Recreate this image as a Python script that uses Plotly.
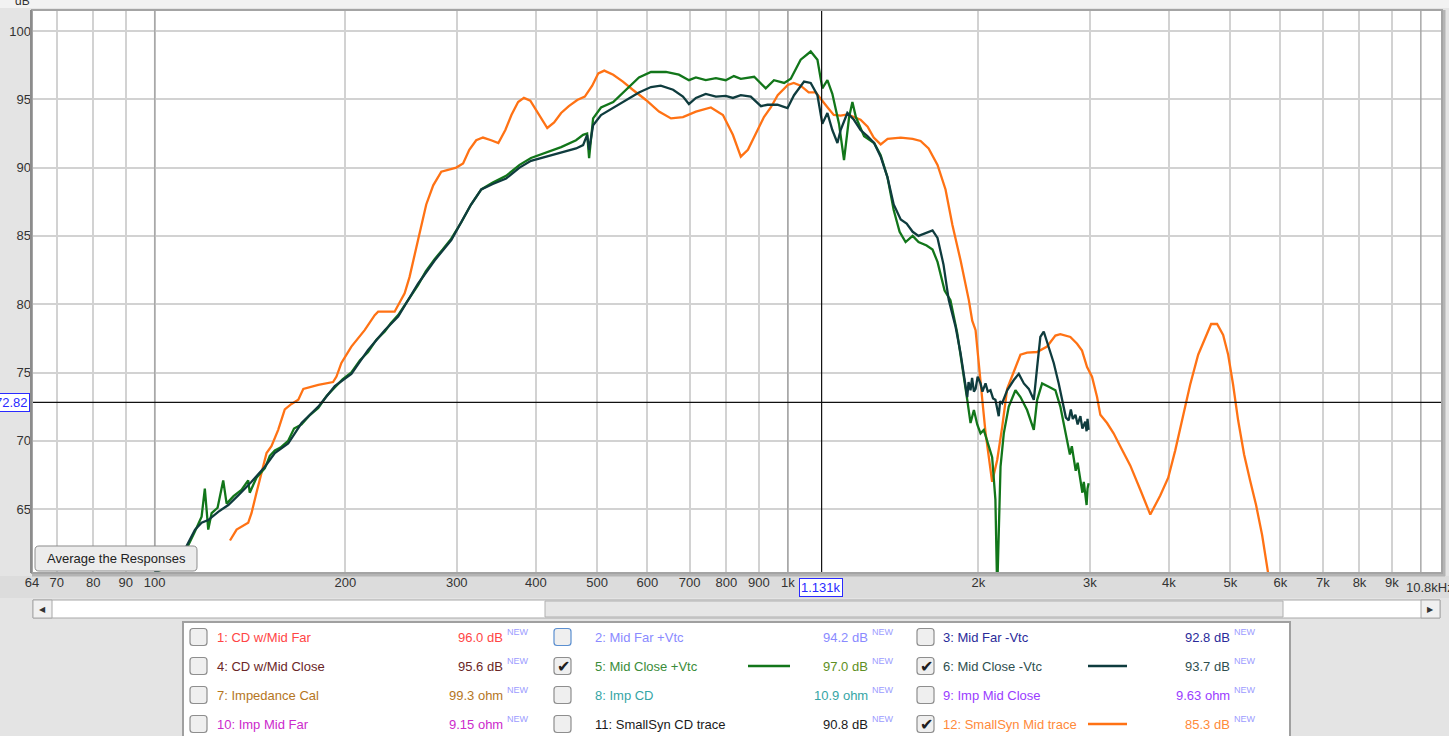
import plotly.graph_objects as go
import math

# ---------------- data ----------------
orange_freq = [131.5, 134.7, 140.5, 142.2, 144.8, 147.5, 150.2, 152.9, 156.7, 160.5,
               164.5, 168.6, 171.7, 181.3, 191.3, 193.7, 197.2, 204.5, 209.6, 214.6,
               222.6, 225.4, 239.3, 243.7, 248.2, 252.7, 257.4, 260.6, 268.5, 275.4,
               283.6, 299.5, 307, 314, 322, 330, 340, 349, 358, 366,
               375, 383, 392, 402, 417, 427.5, 438.5, 451, 465, 478,
               491, 502, 513, 530, 549, 569, 597, 626, 654, 683,
               716, 756, 790, 819, 843, 865, 884, 917, 940, 964,
               1000, 1022, 1048, 1079, 1107, 1136, 1156, 1182, 1212, 1243,
               1271, 1303, 1337, 1367, 1402, 1438, 1508, 1575, 1621, 1669,
               1724, 1775, 1820, 1875, 1932, 1956, 1980, 2004, 2029, 2053,
               2078, 2103, 2142, 2181, 2221, 2273, 2331, 2388, 2476, 2568,
               2647, 2695, 2795, 2864, 2916, 2970, 3024, 3080, 3117, 3194,
               3271, 3351, 3475, 3606, 3738, 3876, 3990, 4093, 4198, 4321,
               4449, 4563, 4664, 4766, 4872, 4962, 5052, 5145, 5258, 5374,
               5492, 5614, 5738, 5820]
orange_db = [62.7, 63.5, 64.0, 64.7, 66.2, 67.6, 69.1, 69.6, 70.8, 72.3,
             72.7, 73.0, 73.8, 74.1, 74.3, 74.7, 75.7, 76.9, 77.5, 78.1,
             79.2, 79.45, 79.45, 80.1, 80.8, 82.0, 83.5, 84.7, 87.3, 88.7,
             89.7, 90.0, 90.3, 91.3, 92.0, 92.2, 92.0, 91.8, 92.75, 93.85,
             94.8, 95.1, 94.9, 94.1, 92.9, 93.3, 94.0, 94.5, 94.95, 95.2,
             96.0, 96.9, 97.1, 96.8, 96.3, 95.7, 94.95, 94.1, 93.6, 93.7,
             94.1, 94.4, 93.85, 92.4, 90.8, 91.3, 92.2, 93.7, 94.4, 95.3,
             96.05, 96.2, 96.0, 95.5, 95.5, 94.8, 94.4, 93.85, 93.8, 93.9,
             93.7, 93.5, 93.0, 92.2, 91.7, 92.1, 92.2, 92.1, 91.95, 91.4,
             90.2, 88.4, 85.8, 83.2, 80.3, 78.8, 78.1, 75.4, 73.0, 70.6,
             68.6, 67.0, 68.6, 71.0, 73.8, 75.0, 76.3, 76.45, 76.5, 76.9,
             77.7, 77.8, 77.6, 77.1, 76.6, 75.4, 74.7, 73.2, 71.9, 71.3,
             70.55, 69.6, 68.2, 66.4, 64.6, 66.0, 67.3, 69.3, 71.5, 74.1,
             76.3, 77.5, 78.55, 78.55, 77.75, 76.3, 74.1, 71.5, 69.0, 67.1,
             65.3, 63.1, 60.5, 58.5]

dark_freq = [100, 106.4, 110.3, 113, 115.8, 118.6, 121.5, 126, 130.7, 135.5,
             142.2, 149.3, 154.8, 162.5, 170.6, 181.3, 192.5, 204.5, 217.3, 230.9,
             242.4, 260.6, 276.8, 294.1, 305, 316, 328, 342, 359, 377,
             393, 415, 438.5, 463, 475, 482, 485.5, 492.6, 507, 530,
             555, 582, 608, 630, 659, 683, 698, 716, 742, 770,
             798, 819, 843, 874, 907, 929, 963, 999, 1023, 1061,
             1087, 1114, 1134, 1155, 1176, 1198, 1212, 1242, 1272, 1303,
             1336, 1369, 1402, 1437, 1470, 1508, 1541, 1575, 1609, 1651,
             1693, 1724, 1762, 1796, 1841, 1875, 1909, 1921, 1930, 1944,
             1955, 1968, 1980, 1995, 2016, 2030, 2053, 2070, 2090, 2110,
             2128, 2154, 2165, 2181, 2221, 2275, 2317, 2360, 2403, 2447,
             2477, 2506, 2537, 2584, 2631, 2679, 2729, 2750, 2778, 2800,
             2820, 2847, 2870, 2899, 2920, 2951, 2965, 2975, 2987]
dark_db = [60.4, 60.9, 61.6, 62.6, 63.5, 64.0, 64.2, 64.8, 65.3, 66.0,
           67.0, 68.1, 69.1, 69.8, 71.3, 72.5, 74.0, 74.9, 76.65, 78.1,
           79.1, 81.5, 83.2, 84.7, 86.0, 87.3, 88.4, 88.8, 89.2, 90.0,
           90.5, 90.8, 91.1, 91.4, 91.65, 92.4, 91.3, 93.1, 93.85, 94.4,
           94.95, 95.5, 95.9, 96.0, 95.7, 95.2, 94.65, 95.1, 95.4, 95.2,
           95.25, 95.1, 95.3, 95.2, 94.5, 94.6, 94.6, 94.35, 95.3, 96.3,
           96.2, 95.3, 93.2, 94.0, 92.75, 91.8, 92.75, 94.0, 93.5, 92.75,
           92.3, 91.8, 90.8, 89.3, 87.3, 86.2, 85.9, 85.3, 85.0, 85.2,
           85.4, 84.85, 82.9, 80.3, 78.35, 76.4, 74.2, 73.2, 74.3, 73.7,
           74.6, 73.6, 73.8, 74.7, 74.2, 73.6, 74.2, 73.6, 73.7, 73.1,
           73.0, 71.8, 72.9, 72.75, 73.7, 74.45, 74.9, 74.2, 73.8, 73.0,
           75.4, 77.6, 78.0, 76.9, 75.7, 74.2, 72.5, 71.7, 71.5, 72.3,
           71.6, 71.9, 71.2, 71.8, 70.9, 71.4, 70.7, 71.6, 70.8]

green_freq = [100, 106.4, 110.3, 113.1, 115.6, 118.6, 120.0, 121.5, 123.0, 125.7,
              128.3, 129.9, 133.2, 137.1, 140.5, 141.3, 144.8, 149.3, 152, 154.8,
              158, 162.5, 166, 170.6, 176, 181.3, 187, 192.5, 198, 204.5,
              211, 217.3, 224, 230.9, 236, 242.4, 251, 260.6, 268, 276.8,
              285, 294.1, 305, 316, 328, 342, 359, 377, 393, 415,
              438.5, 463, 475, 482, 485.5, 492.6, 507, 530, 555, 582,
              608, 642, 673, 698, 716, 742, 770, 798, 822, 843,
              885, 923, 951, 987, 1011, 1048, 1087, 1114, 1134, 1155,
              1176, 1205, 1227, 1250, 1265, 1281, 1320, 1369, 1402, 1437,
              1470, 1502, 1535, 1575, 1609, 1657, 1693, 1724, 1769, 1807,
              1852, 1897, 1921, 1944, 1968, 1992, 2016, 2040, 2065, 2085,
              2103, 2128, 2142, 2154, 2168, 2194, 2234, 2289, 2331, 2388,
              2447, 2477, 2522, 2584, 2647, 2695, 2761, 2790, 2810, 2829,
              2850, 2870, 2899, 2920, 2935, 2951, 2965, 2975, 2987]
green_db = [60.4, 60.8, 61.5, 62.4, 63.3, 64.45, 66.5, 63.5, 64.7, 65.1,
            67.1, 65.4, 65.95, 66.4, 67.1, 66.2, 67.3, 68.0, 68.9, 69.3,
            69.5, 70.0, 70.9, 71.2, 71.9, 72.4, 73.3, 73.9, 74.5, 75.0,
            75.9, 76.5, 77.4, 78.0, 78.6, 79.2, 80.3, 81.4, 82.4, 83.3,
            84.0, 84.8, 86.0, 87.3, 88.4, 88.9, 89.4, 90.2, 90.7, 91.1,
            91.5, 92.0, 92.4, 92.5, 90.7, 93.6, 94.4, 94.8, 95.7, 96.6,
            97.0, 97.0, 96.8, 96.4, 96.6, 96.4, 96.55, 96.4, 96.7, 96.5,
            96.65, 95.8, 96.4, 96.2, 96.5, 97.9, 98.5, 97.9, 95.8, 96.4,
            95.4, 93.2, 90.55, 93.7, 94.8, 93.7, 92.3, 91.8, 90.9, 89.3,
            86.9, 85.3, 84.55, 85.0, 84.55, 84.3, 84.0, 83.1, 81.0, 80.3,
            77.9, 74.9, 73.0, 71.3, 72.25, 71.2, 70.55, 70.8, 70.05, 69.4,
            68.8, 65.7, 59.0, 63.2, 68.1, 70.55, 72.5, 73.7, 73.2, 72.25,
            70.8, 73.0, 74.2, 73.95, 73.7, 72.5, 70.05, 69.0, 69.6, 68.8,
            67.8, 68.4, 67.1, 66.2, 67.0, 65.9, 65.3, 66.5, 66.9]

x_tick_vals = [64, 70, 80, 90, 100, 200, 300, 400, 500, 600, 700, 800, 900,
               1000, 2000, 3000, 4000, 5000, 6000, 7000, 8000, 9000]
x_tick_text = ["64", "70", "80", "90", "100", "200", "300", "400", "500", "600", "700",
               "800", "900", "1k", "2k", "3k", "4k", "5k", "6k", "7k", "8k", "9k"]
x_end_label = "10.8kHz"
decade_lines = [100, 1000, 10000]
y_tick_vals = [65, 70, 75, 80, 85, 90, 95, 100]

cursor_freq = 1131
cursor_db = 72.82

legend_labels = ["1: CD w/Mid Far", "2: Mid Far +Vtc", "3: Mid Far -Vtc",
                 "4: CD w/Mid Close", "5: Mid Close +Vtc", "6: Mid Close -Vtc",
                 "7: Impedance Cal", "8: Imp CD", "9: Imp Mid Close",
                 "10: Imp Mid Far", "11: SmallSyn CD trace", "12: SmallSyn Mid trace"]
legend_values = ["96.0 dB", "94.2 dB", "92.8 dB", "95.6 dB", "97.0 dB", "93.7 dB",
                 "99.3 ohm", "10.9 ohm", "9.63 ohm", "9.15 ohm", "90.8 dB", "85.3 dB"]
legend_checked = [False, False, False, False, True, True,
                  False, False, False, False, False, True]

# ---------------- styles ----------------
assert len(orange_freq) == len(orange_db), (len(orange_freq), len(orange_db))
assert len(dark_freq) == len(dark_db), (len(dark_freq), len(dark_db))
assert len(green_freq) == len(green_db), (len(green_freq), len(green_db))

C_ORANGE = "#ff7214"
C_GREEN = "#12761a"
C_DARK = "#0f3c3e"
label_colors = ["#ff4545", "#8a8aff", "#2a2a9a", "#6a2626", "#3a8c3a", "#2f4f4f",
                "#b5761e", "#35a5a5", "#9a3cff", "#cc2acc", "#1a1a1a", "#ff8a3a"]
value_colors = ["#ff4545", "#8a8aff", "#2a2a9a", "#6a2626", "#5e8f23", "#2f4f4f",
                "#b5761e", "#35a5a5", "#9a3cff", "#cc2acc", "#1a1a1a", "#ff8a3a"]
line_samples = {4: C_GREEN, 5: C_DARK, 11: C_ORANGE}

W, H = 1449, 736
PL, PR, PT, PB = 32, 1442, 10, 573
FONT = "Liberation Sans, Arial, sans-serif"

def px(x):
    return (x - PL) / (PR - PL)

def py(y):
    return (PB - y) / (PB - PT)

Y_MIN = 100 - (PB - 31) / 13.66
Y_MAX = 100 + (31 - PT) / 13.66
X_MIN, X_MAX = 64, 10800

fig = go.Figure()

for f in decade_lines:
    fig.add_trace(go.Scatter(x=[f, f], y=[Y_MIN - 1, Y_MAX + 1], mode="lines",
                             line=dict(color="#a8a8a8", width=1.5), hoverinfo="skip"))

fig.add_trace(go.Scatter(x=orange_freq, y=orange_db, mode="lines",
                         line=dict(color=C_ORANGE, width=2.3), hoverinfo="skip"))
fig.add_trace(go.Scatter(x=green_freq, y=green_db, mode="lines",
                         line=dict(color=C_GREEN, width=2.3), hoverinfo="skip"))
fig.add_trace(go.Scatter(x=dark_freq, y=dark_db, mode="lines",
                         line=dict(color=C_DARK, width=2.3), hoverinfo="skip"))

# cursor crosshair
fig.add_trace(go.Scatter(x=[cursor_freq, cursor_freq], y=[Y_MIN - 1, Y_MAX + 1], mode="lines",
                         line=dict(color="#111111", width=1.2), hoverinfo="skip"))
fig.add_trace(go.Scatter(x=[X_MIN * 0.9, X_MAX * 1.1], y=[cursor_db, cursor_db], mode="lines",
                         line=dict(color="#111111", width=1.2), hoverinfo="skip"))

shapes = []
ann = []

def rect(x0, y0, x1, y1, fill, line="#a0a0a0", lw=1, layer="above"):
    shapes.append(dict(type="rect", xref="paper", yref="paper",
                       x0=px(x0), x1=px(x1), y0=py(y1), y1=py(y0),
                       fillcolor=fill, line=dict(color=line, width=lw), layer=layer))

def rrect(x0, y0, x1, y1, r, fill, line, lw=1):
    pts = [("M", x0 + r, y0), ("L", x1 - r, y0), ("Q", x1, y0, x1, y0 + r),
           ("L", x1, y1 - r), ("Q", x1, y1, x1 - r, y1), ("L", x0 + r, y1),
           ("Q", x0, y1, x0, y1 - r), ("L", x0, y0 + r), ("Q", x0, y0, x0 + r, y0)]
    s = ""
    for p in pts:
        if p[0] == "Q":
            s += "Q%.5f,%.5f %.5f,%.5f " % (px(p[1]), py(p[2]), px(p[3]), py(p[4]))
        else:
            s += "%s%.5f,%.5f " % (p[0], px(p[1]), py(p[2]))
    s += "Z"
    shapes.append(dict(type="path", xref="paper", yref="paper", path=s,
                       fillcolor=fill, line=dict(color=line, width=lw), layer="above"))

def text(x, y, s, size=13, color="#333333", xanchor="center", yanchor="middle", **kw):
    d = dict(xref="paper", yref="paper", x=px(x), y=py(y), text=s, showarrow=False,
             xanchor=xanchor, yanchor=yanchor, font=dict(family=FONT, size=size, color=color))
    d.update(kw)
    ann.append(d)

# background bands
rect(0, -2, W + 2, 8, "#f2f2f2", line="rgba(0,0,0,0)", lw=0, layer="below")
rect(0, 576, W + 2, 598, "#dcdcdc", line="rgba(0,0,0,0)", lw=0, layer="below")

# plot frame with shadow
shapes.append(dict(type="line", xref="paper", yref="paper", x0=px(PR + 2), x1=px(PR + 2),
                   y0=py(PB + 3), y1=py(PT), line=dict(color="#b4b4b4", width=3)))
shapes.append(dict(type="line", xref="paper", yref="paper", x0=px(PL), x1=px(PR + 3),
                   y0=py(PB + 2), y1=py(PB + 2), line=dict(color="#b4b4b4", width=3)))
rect(PL, PT, PR, PB, "rgba(0,0,0,0)", line="#a4a4a4", lw=2)
shapes.append(dict(type="line", xref="paper", yref="paper", x0=px(PL - 1), x1=px(PL - 1),
                   y0=py(PB), y1=py(PT), line=dict(color="#8c8c8c", width=2)))

# "Average the Responses" button
rrect(35, 546, 197, 571, 4, "#ececec", "#8c8c8c", 1)
text(116, 558.5, "Average the Responses", size=13, color="#222222")

# axis title (clipped at the top edge as in the reference)
text(22, 1, "dB", size=12, color="#333333")

# right-end frequency label (runs off the right edge, as in the reference)
text(1404, 587, x_end_label, size=13, color="#333333", xanchor="left")

# cursor value boxes
text(821, 587, "1.131k", size=13, color="#2a2aff", bgcolor="white",
     bordercolor="#2a2aff", borderwidth=1, borderpad=1)
text(30, 402, "72.82", size=13, color="#2a2aff", xanchor="right", bgcolor="white",
     bordercolor="#2a2aff", borderwidth=1, borderpad=1)

# scrollbar
rect(33, 600, 1440, 618, "#ffffff", line="#a8a8a8", lw=1)
rect(33, 600, 52, 618, "#f0f0f0", line="#a8a8a8", lw=1)
rect(545, 601, 1283, 617, "#e6e6e6", line="#b0b0b0", lw=1)
rect(1421, 600, 1440, 618, "#f0f0f0", line="#a8a8a8", lw=1)
text(42.5, 609, "◀", size=8, color="#333333")
text(1430.5, 609, "▶", size=8, color="#333333")

# legend panel
rect(183, 622, 1290, 740, "#ffffff", line="#a0a0a0", lw=2)
col_box = [190, 554, 917]
col_label = [215, 593, 941]
col_value = [505, 870, 1232]
col_line = [None, (748, 790), (1088, 1127)]
row_y = [637, 666, 695, 724]
for i, lab in enumerate(legend_labels):
    r, c = divmod(i, 3)
    y = row_y[r]
    bx = col_box[c]
    rrect(bx, y - 8.5, bx + 17, y + 8.5, 3, "#efefef",
          "#5b8fd0" if i == 1 else "#8e8e8e", 1.2)
    if legend_checked[i]:
        text(bx + 9, y, "✔", font=dict(family="DejaVu Sans", size=16, color="#202020"))
    text(col_label[c], y, lab, size=13, color=label_colors[i], xanchor="left")
    text(col_value[c], y, legend_values[i], size=13, color=value_colors[i], xanchor="right")
    text(col_value[c], y - 5, "NEW", size=9, color="#9c9cff", xanchor="left")
    if i in line_samples:
        x0, x1 = col_line[c]
        shapes.append(dict(type="line", xref="paper", yref="paper", x0=px(x0), x1=px(x1),
                           y0=py(y), y1=py(y), line=dict(color=line_samples[i], width=2.5)))

fig.update_layout(
    width=W, height=H,
    margin=dict(l=PL, r=W - PR, t=PT, b=H - PB),
    paper_bgcolor="#e4e4e4",
    plot_bgcolor="#ffffff",
    showlegend=False,
    hovermode=False,
    font=dict(family=FONT, size=13, color="#333333"),
    shapes=shapes,
    annotations=ann,
    xaxis=dict(type="log", range=[math.log10(X_MIN), math.log10(X_MAX)],
               tickvals=x_tick_vals, ticktext=x_tick_text, showgrid=True,
               gridcolor="#d2d2d2", gridwidth=1.5, zeroline=False, showline=False,
               ticks="", tickfont=dict(family=FONT, size=13, color="#333333"),
               ticklabeloverflow="allow", fixedrange=True),
    yaxis=dict(range=[Y_MIN, Y_MAX], tickvals=y_tick_vals,
               ticktext=[str(v) for v in y_tick_vals], showgrid=True,
               gridcolor="#d2d2d2", gridwidth=1.5, zeroline=False, showline=False,
               ticks="", tickfont=dict(family=FONT, size=13, color="#333333"),
               fixedrange=True),
)

fig.write_html("out.html", config=dict(displayModeBar=False),
               post_script="document.body.style.margin='0';document.body.style.overflow='hidden';")
